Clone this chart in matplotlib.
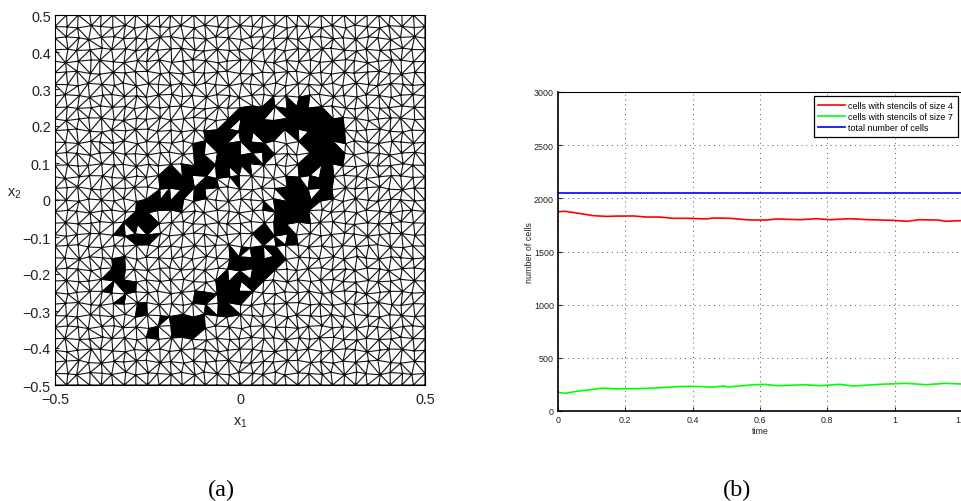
#!/usr/bin/env python3
import numpy as np
import matplotlib
matplotlib.use("Agg")
import matplotlib.pyplot as plt
import matplotlib.tri as mtri
from matplotlib.collections import PolyCollection
from matplotlib.path import Path

plt.rcParams["font.family"] = ["Liberation Sans", "DejaVu Sans"]
plt.rcParams["mathtext.default"] = "regular"
plt.rcParams["mathtext.fontset"] = "custom"
plt.rcParams["mathtext.rm"] = "Liberation Sans"

# mesh: 33x33 nodes gives the 2048 cells of the right panel. Single nodes cannot
# be read by eye, so the irregularity is a typed offset table (approximation)
mesh_nodes = 33
jitter_scale = 0.45
jitter_x = [
    [0.22, -0.18, 0.05, 0.28, -0.25, 0.12, -0.08, 0.30, -0.15, 0.02, 0.20],
    [-0.12, 0.26, -0.28, 0.08, 0.18, -0.22, 0.28, -0.05, 0.14, -0.30, 0.10],
    [0.30, -0.06, 0.16, -0.20, 0.02, 0.25, -0.16, 0.10, -0.26, 0.22, -0.02],
    [-0.24, 0.12, -0.10, 0.32, -0.14, -0.02, 0.20, -0.28, 0.06, 0.16, -0.20],
    [0.08, -0.30, 0.24, -0.04, 0.28, -0.18, 0.04, 0.18, -0.22, -0.08, 0.26],
    [-0.16, 0.20, 0.00, -0.26, 0.10, 0.30, -0.24, 0.06, 0.24, -0.14, 0.04],
    [0.18, -0.02, -0.22, 0.14, -0.30, 0.08, 0.16, -0.12, -0.04, 0.28, -0.26],
]
jitter_y = [
    [-0.20, 0.24, 0.06, -0.28, 0.14, 0.28, -0.10, 0.02, -0.24, 0.18, 0.30, -0.14, 0.08],
    [0.28, -0.06, -0.26, 0.18, 0.02, -0.20, 0.26, -0.30, 0.12, -0.02, -0.18, 0.22, -0.28],
    [-0.08, 0.16, 0.30, -0.14, -0.26, 0.10, -0.02, 0.22, 0.28, -0.16, 0.06, -0.24, 0.14],
    [0.12, -0.30, 0.02, 0.24, 0.20, -0.12, -0.28, 0.14, -0.06, 0.26, -0.22, 0.04, 0.30],
    [-0.26, 0.08, -0.16, -0.04, 0.30, 0.04, 0.18, -0.22, 0.20, -0.10, 0.16, 0.28, -0.12],
]

# black cells: outlines and left-open triangles, traced in x1, x2
band_outline = [
    (-0.333, -0.092), (-0.247, 0.003), (-0.189, 0.088), (-0.153, 0.075), (-0.090, 0.178),
    (-0.067, 0.192), (-0.036, 0.214), (0.000, 0.241), (0.036, 0.253), (0.090, 0.275),
    (0.122, 0.255), (0.153, 0.277), (0.189, 0.277), (0.194, 0.246), (0.225, 0.246),
    (0.261, 0.214), (0.284, 0.210), (0.284, 0.091), (0.252, 0.088), (0.248, 0.061),
    (0.252, 0.021), (0.243, 0.003), (0.221, -0.002), (0.189, -0.033), (0.158, -0.092),
    (0.131, -0.132), (0.109, -0.164), (0.059, -0.227), (0.032, -0.256), (-0.004, -0.308),
    (-0.090, -0.317), (-0.126, -0.375), (-0.171, -0.375), (-0.184, -0.330), (-0.247, -0.375),
    (-0.247, -0.348), (-0.216, -0.317), (-0.117, -0.310), (-0.063, -0.290), (-0.058, -0.227),
    (-0.045, -0.200), (-0.009, -0.159), (-0.027, -0.141), (0.009, -0.132), (0.036, -0.114),
    (0.032, -0.087), (0.059, -0.065), (0.095, -0.060), (0.068, -0.029), (0.050, -0.002),
    (0.097, -0.020), (0.122, 0.034), (0.135, 0.061), (0.158, 0.088), (0.158, 0.097),
    (0.180, 0.138), (0.158, 0.151), (0.135, 0.169), (0.090, 0.174), (0.068, 0.156),
    (0.086, 0.120), (0.036, 0.097), (0.000, 0.057), (0.000, 0.025), (-0.031, 0.057),
    (-0.058, 0.057), (-0.063, 0.039), (-0.094, 0.025), (-0.094, -0.002), (-0.090, -0.033),
    (-0.121, 0.012), (-0.153, 0.003), (-0.184, -0.038), (-0.216, -0.033), (-0.247, -0.060),
    (-0.225, -0.096), (-0.243, -0.119), (-0.288, -0.119), (-0.301, -0.096),
]
square_outline = [(-0.286, -0.283), (-0.252, -0.283), (-0.252, -0.317), (-0.286, -0.317)]
left_outline = [
    (-0.369, -0.186), (-0.337, -0.164), (-0.306, -0.164), (-0.315, -0.200), (-0.279, -0.245),
    (-0.301, -0.245), (-0.337, -0.222), (-0.342, -0.254), (-0.378, -0.254), (-0.346, -0.215),
]
left_small_outline = [(-0.342, -0.272), (-0.315, -0.251), (-0.310, -0.278)]
bottom_outline = [
    (-0.126, -0.249), (-0.094, -0.247), (-0.058, -0.254), (-0.058, -0.290),
    (-0.090, -0.287), (-0.121, -0.285),
]
black_outlines = [band_outline, square_outline, left_outline, left_small_outline, bottom_outline]
white_cells = [
    (0.079, 0.230), (0.108, 0.230), (0.144, 0.262), (-0.016, 0.196), (-0.016, 0.165),
    (0.045, 0.165), (-0.081, 0.142), (0.011, 0.133), (-0.070, 0.113), (-0.072, 0.082),
    (-0.103, 0.054), (0.171, 0.172), (0.275, 0.142), (0.054, 0.106), (0.086, 0.106),
    (0.149, 0.073), (0.207, 0.070), (0.179, 0.043), (0.200, 0.010), (0.081, -0.044),
    (0.014, 0.070), (-0.020, 0.068), (-0.274, -0.087), (-0.299, -0.078), (-0.234, -0.047),
    (-0.207, 0.016), (-0.166, 0.023), (-0.139, 0.007), (-0.166, 0.086), (-0.106, 0.052),
    (-0.076, 0.082), (-0.067, 0.113), (-0.081, 0.145), (-0.049, 0.043), (-0.073, -0.272),
    (-0.013, -0.195), (0.023, -0.200), (0.023, -0.240), (0.014, -0.141), (0.045, -0.110),
    (0.077, -0.114), (0.077, -0.141), (0.116, -0.141), (0.113, -0.100), (0.145, -0.078),
    (0.090, -0.078), (-0.196, -0.335), (-0.013, -0.290),
]

# right panel
red_t = [0, 0.021, 0.055, 0.105, 0.144, 0.174, 0.224, 0.263, 0.303, 0.342, 0.392, 0.441,
         0.461, 0.511, 0.570, 0.620, 0.649, 0.718, 0.767, 0.807, 0.866, 0.925, 0.994,
         1.038, 1.073, 1.128, 1.152, 1.195, 1.2]
red_n = [1874, 1878, 1862, 1837, 1830, 1833, 1834, 1824, 1824, 1812, 1812, 1806,
         1815, 1812, 1796, 1796, 1806, 1799, 1808, 1799, 1808, 1799, 1793,
         1784, 1799, 1796, 1784, 1790, 1790]
green_t = [0, 0.021, 0.055, 0.095, 0.134, 0.174, 0.198, 0.237, 0.291, 0.350, 0.395, 0.430,
           0.456, 0.490, 0.505, 0.570, 0.609, 0.654, 0.733, 0.778, 0.837, 0.877, 0.956,
           1.035, 1.094, 1.149, 1.196, 1.2]
green_n = [176, 166, 185, 200, 216, 207, 210, 210, 216, 229, 232, 229,
           224, 235, 226, 244, 251, 238, 247, 238, 251, 235, 251,
           260, 247, 260, 254, 254]
total_t = [0, 1.2]
total_n = [2048, 2048]


def build_mesh():
    axis = np.linspace(-0.5, 0.5, mesh_nodes)
    step = axis[1] - axis[0]
    xs, ys = [], []
    for j, y0 in enumerate(axis):
        for i, x0 in enumerate(axis):
            x, y = x0, y0
            if 0 < i < mesh_nodes - 1 and 0 < j < mesh_nodes - 1:
                x += jitter_x[j % 7][i % 11] * step * jitter_scale
                y += jitter_y[j % 5][i % 13] * step * jitter_scale
            xs.append(x)
            ys.append(y)
    return mtri.Triangulation(np.array(xs), np.array(ys))


def black_cells(tri):
    centres = np.column_stack([tri.x[tri.triangles].mean(axis=1), tri.y[tri.triangles].mean(axis=1)])
    mask = np.zeros(len(centres), dtype=bool)
    for outline in black_outlines:
        mask |= Path(outline).contains_points(centres)
    finder = tri.get_trifinder()
    for x, y in white_cells:
        k = finder(x, y)
        if k >= 0:
            mask[k] = False
    return mask


def draw_mesh(ax):
    tri = build_mesh()
    ax.triplot(tri, color="#111111", lw=0.8)
    mask = black_cells(tri)
    verts = np.dstack([tri.x[tri.triangles[mask]], tri.y[tri.triangles[mask]]])
    ax.add_collection(PolyCollection(verts, facecolors="k", edgecolors="k", linewidths=0.6, zorder=3))
    ax.set_xlim(-0.5, 0.5)
    ax.set_ylim(-0.5, 0.5)
    ax.set_xticks([-0.5, 0, 0.5])
    ax.set_xticklabels(["\u22120.5", "0", "0.5"])
    ax.set_yticks(np.arange(-5, 6) / 10)
    ax.set_yticklabels(["\u22120.5", "\u22120.4", "\u22120.3", "\u22120.2", "\u22120.1", "0",
                        "0.1", "0.2", "0.3", "0.4", "0.5"])
    ax.tick_params(direction="in", length=3, width=0.8, labelsize=10.4, colors="#222222", pad=3)
    ax.tick_params(axis="x", pad=5)
    ax.set_xlabel("x$_1$", fontsize=10.4, labelpad=6, color="#222222")
    ax.set_ylabel("x$_2$", fontsize=10.4, rotation=0, labelpad=6, color="#222222")


def draw_counts(ax):
    ax.plot(red_t, red_n, color="#ff0000", lw=1.2, label="cells with stencils of size 4")
    ax.plot(green_t, green_n, color="#00ff00", lw=1.2, label="cells with stencils of size 7")
    ax.plot(total_t, total_n, color="#0000ff", lw=1.2, label="total number of cells")
    ax.set_xlim(0, 1.2)
    ax.set_ylim(0, 3000)
    ax.set_xticks([0, 0.2, 0.4, 0.6, 0.8, 1, 1.2])
    ax.set_xticklabels(["0", "0.2", "0.4", "0.6", "0.8", "1", "1.2"])
    ax.set_yticks([0, 500, 1000, 1500, 2000, 2500, 3000])
    ax.grid(True, color="#555555", ls=(0, (1, 4)), lw=0.7)
    ax.tick_params(direction="in", length=3, width=0.8, labelsize=6.4, colors="#222222", pad=3)
    ax.set_xlabel("time", fontsize=6.4, labelpad=1, color="#222222")
    ax.set_ylabel("number of cells", fontsize=6.4, labelpad=0, color="#222222")
    for name in ("left", "bottom"):
        ax.spines[name].set_linewidth(1.2)
    ax.legend(loc="upper right", fontsize=6.4, fancybox=False, framealpha=1, edgecolor="k",
              borderpad=0.5, labelspacing=0.25, handlelength=3.0, handletextpad=0.4,
              borderaxespad=0.5).get_frame().set_linewidth(0.9)


def main():
    fig = plt.figure(figsize=(9.61, 5.02), dpi=100)
    ax1 = fig.add_axes([55 / 961, 116 / 502, 370 / 961, 370 / 502])
    ax2 = fig.add_axes([558 / 961, 90 / 502, 404 / 961, 319 / 502])
    draw_mesh(ax1)
    draw_counts(ax2)
    fig.text(221 / 961, 12 / 502, "(a)", family="Liberation Serif", fontsize=17.5, ha="center", va="center")
    fig.text(737 / 961, 12 / 502, "(b)", family="Liberation Serif", fontsize=17.5, ha="center", va="center")
    fig.savefig("out.png", dpi=100)


if __name__ == "__main__":
    main()
